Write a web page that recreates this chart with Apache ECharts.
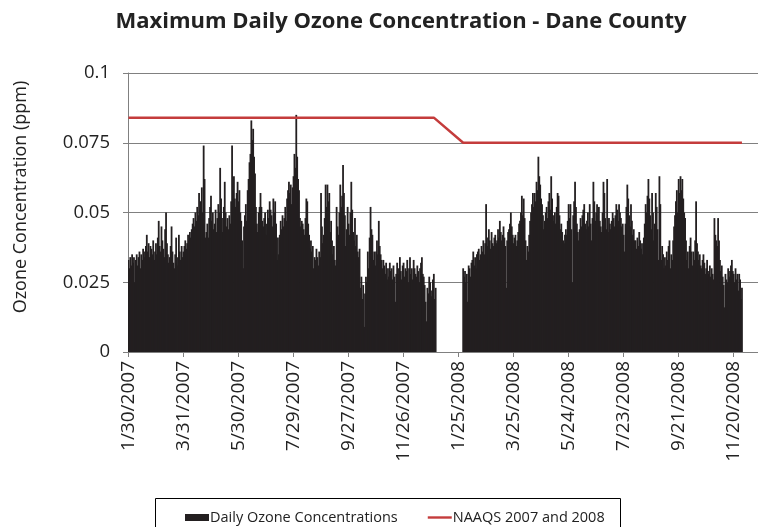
<!DOCTYPE html>
<html><head><meta charset="utf-8">
<script src="https://cdn.jsdelivr.net/npm/echarts@6/dist/echarts.min.js"></script>
<style>html,body{margin:0;padding:0;background:#fff}#c{width:758px;height:527px}</style>
</head><body><div id="c"></div>
<script>
// ---- DATA ----
const startDate = [2007, 1, 30];          // first category: 1/30/2007
const categoryCount = 687;                 // daily categories on the x axis
const labelEvery = 60;                     // a tick label every 60 days
const tickLabels = ['1/30/2007','3/31/2007','5/30/2007','7/29/2007','9/27/2007','11/26/2007','1/25/2008','3/25/2008','5/24/2008','7/23/2008','9/21/2008','11/20/2008'];
const yTicks = [0, 0.025, 0.05, 0.075, 0.1];

// Daily maximum ozone, 1/30/2007 - 12/31/2007 (ppm)
const ozone2007 = [
0.033,0.030,0.034,0.031,0.035,0.032,0.034,0.025,0.033,0.035,0.031,0.034,0.036,0.030,0.035,0.033,0.037,0.036,0.034,0.038,
0.042,0.036,0.039,0.034,0.038,0.037,0.035,0.040,0.033,0.036,0.039,0.035,0.041,0.047,0.038,0.036,0.045,0.040,0.037,0.034,
0.044,0.050,0.039,0.035,0.032,0.034,0.038,0.045,0.036,0.032,0.030,0.035,0.041,0.034,0.031,0.042,0.036,0.033,0.038,0.034,
0.036,0.038,0.040,0.037,0.039,0.042,0.040,0.043,0.041,0.044,0.046,0.048,0.045,0.050,0.047,0.052,0.049,0.057,0.051,0.054,
0.059,0.050,0.074,0.062,0.041,0.043,0.046,0.041,0.048,0.052,0.056,0.047,0.050,0.044,0.046,0.051,0.043,0.048,0.053,0.050,
0.066,0.055,0.048,0.043,0.052,0.061,0.050,0.045,0.048,0.044,0.049,0.046,0.054,0.074,0.058,0.063,0.055,0.052,0.057,0.061,
0.054,0.058,0.050,0.047,0.040,0.030,0.045,0.049,0.053,0.047,0.058,0.062,0.068,0.071,0.083,0.076,0.080,0.070,0.064,0.052,
0.046,0.043,0.050,0.052,0.057,0.052,0.047,0.045,0.048,0.050,0.042,0.046,0.051,0.048,0.054,0.051,0.049,0.045,0.055,0.050,
0.054,0.046,0.033,0.041,0.035,0.042,0.047,0.044,0.049,0.045,0.048,0.052,0.047,0.055,0.058,0.061,0.057,0.060,0.053,0.059,
0.063,0.071,0.066,0.085,0.070,0.062,0.058,0.048,0.045,0.047,0.046,0.044,0.042,0.048,0.055,0.054,0.046,0.042,0.037,0.040,
0.036,0.038,0.030,0.034,0.033,0.037,0.034,0.031,0.036,0.034,0.057,0.045,0.039,0.042,0.048,0.060,0.052,0.060,0.054,0.057,
0.043,0.047,0.040,0.035,0.038,0.033,0.031,0.052,0.045,0.042,0.050,0.060,0.052,0.056,0.067,0.057,0.049,0.038,0.044,0.052,
0.046,0.042,0.050,0.061,0.051,0.043,0.040,0.048,0.038,0.042,0.036,0.034,0.037,0.023,0.027,0.019,0.024,0.009,0.021,0.027,
0.025,0.036,0.030,0.041,0.052,0.044,0.042,0.033,0.036,0.031,0.036,0.040,0.035,0.047,0.038,0.035,0.033,0.030,0.033,0.031,
0.028,0.032,0.026,0.030,0.027,0.032,0.029,0.030,0.026,0.031,0.027,0.018,0.028,0.032,0.030,0.028,0.034,0.029,0.026,0.031,
0.032,0.027,0.030,0.029,0.033,0.025,0.030,0.034,0.028,0.030,0.026,0.033,0.030,0.028,0.027,0.031,0.029,0.025,0.030,0.032,
0.034,0.028,0.027,0.024,0.018,0.011,0.023,0.021,0.027,0.025,0.020,0.022,0.026,0.028,0.019,0.023
];
const gapDays = 29; // 1/1/2008 - 1/29/2008: no data

// Daily maximum ozone, 1/30/2008 - 11/29/2008 (ppm)
const ozone2008 = [
0.030,0.027,0.029,0.025,0.028,0.018,0.031,0.030,0.027,0.032,0.033,0.036,0.031,0.034,0.030,0.035,0.036,0.037,0.033,0.035,
0.038,0.036,0.040,0.035,0.039,0.053,0.041,0.038,0.044,0.040,0.037,0.043,0.039,0.038,0.041,0.042,0.039,0.040,0.044,0.041,
0.047,0.043,0.040,0.042,0.045,0.041,0.038,0.023,0.040,0.043,0.044,0.046,0.050,0.045,0.042,0.039,0.041,0.042,0.038,0.040,
0.043,0.046,0.047,0.050,0.056,0.049,0.055,0.048,0.040,0.033,0.038,0.036,0.042,0.047,0.050,0.053,0.057,0.052,0.057,0.054,
0.061,0.058,0.070,0.063,0.060,0.055,0.053,0.049,0.044,0.047,0.050,0.052,0.048,0.054,0.057,0.051,0.063,0.055,0.049,0.047,
0.050,0.046,0.052,0.057,0.056,0.049,0.044,0.046,0.043,0.040,0.039,0.042,0.044,0.042,0.047,0.053,0.048,0.053,0.044,0.025,
0.049,0.054,0.061,0.052,0.046,0.043,0.040,0.044,0.048,0.045,0.049,0.051,0.053,0.046,0.044,0.047,0.050,0.045,0.053,0.046,
0.040,0.048,0.061,0.054,0.047,0.050,0.053,0.049,0.052,0.047,0.045,0.043,0.050,0.061,0.057,0.048,0.044,0.062,0.043,0.048,
0.046,0.044,0.047,0.050,0.048,0.045,0.049,0.053,0.051,0.047,0.053,0.050,0.048,0.045,0.046,0.042,0.036,0.046,0.052,0.060,
0.055,0.049,0.045,0.053,0.047,0.042,0.044,0.040,0.040,0.037,0.041,0.038,0.043,0.040,0.037,0.039,0.035,0.041,0.046,0.053,
0.050,0.056,0.062,0.055,0.049,0.044,0.057,0.050,0.040,0.046,0.057,0.052,0.044,0.033,0.063,0.053,0.033,0.038,0.035,0.030,
0.034,0.031,0.036,0.033,0.038,0.040,0.030,0.035,0.033,0.040,0.045,0.049,0.054,0.058,0.050,0.062,0.057,0.063,0.058,0.062,
0.055,0.050,0.048,0.040,0.033,0.036,0.030,0.038,0.041,0.036,0.031,0.036,0.033,0.040,0.054,0.039,0.036,0.033,0.035,0.031,
0.030,0.033,0.035,0.032,0.028,0.030,0.033,0.029,0.028,0.031,0.027,0.030,0.028,0.026,0.048,0.042,0.040,0.038,0.048,0.040,
0.033,0.029,0.031,0.027,0.024,0.016,0.028,0.026,0.025,0.030,0.027,0.029,0.031,0.033,0.029,0.028,0.025,0.030,0.026,0.028,
0.022,0.028,0.026,0.019,0.023
];
const naaqs2007 = 0.084;
const naaqs2008 = 0.075;
const seriesNames = ['Daily Ozone Concentrations', 'NAAQS 2007 and 2008'];

// ---- BUILD ----
const categories = [];
for (let i = 0; i < categoryCount; i++) {
  const d = new Date(startDate[0], startDate[1] - 1, startDate[2] + i);
  categories.push((d.getMonth() + 1) + '/' + d.getDate() + '/' + d.getFullYear());
}
const gap = new Array(gapDays).fill(null);
const ozoneData = ozone2007.concat(gap, ozone2008);
const naaqsData = ozone2007.map(() => naaqs2007).concat(gap, ozone2008.map(() => naaqs2008));

const FONT = 'Open Sans';
const RED = '#c43c3c';
const chart = echarts.init(document.getElementById('c'), null, {renderer: 'canvas'});
chart.setOption({
  animation: false,
  backgroundColor: '#fff',
  grid: {left: 128, right: 0, top: 73, bottom: 175, containLabel: false},
  graphic: [
    {type: 'text', x: 401, y: 22,
      style: {text: 'Maximum Daily Ozone Concentration - Dane County', fontFamily: FONT, fontWeight: 'bold', fontSize: 22, fill: '#222', align: 'center', verticalAlign: 'middle'}},
    {type: 'text', x: 21, y: 197, rotation: Math.PI / 2,
      style: {text: 'Ozone Concentration (ppm)', fontFamily: FONT, fontSize: 18, fill: '#222', align: 'center', verticalAlign: 'middle'}},
    {type: 'rect', shape: {x: 155.5, y: 498.5, width: 465, height: 40}, style: {fill: 'none', stroke: '#000', lineWidth: 1}, z: 10}
  ],
  legend: {
    left: 180, top: 505, itemGap: 30, itemWidth: 24, itemHeight: 7,
    textStyle: {fontFamily: FONT, fontSize: 14.5, color: '#222', padding: [0, 0, 0, -4]},
    data: [
      {name: seriesNames[0], icon: 'rect'},
      {name: seriesNames[1], icon: 'path://M0,0H24V2.4H0Z', itemStyle: {color: RED}}
    ]
  },
  xAxis: {
    type: 'category', data: categories, boundaryGap: true,
    axisLine: {show: true, lineStyle: {color: '#808080', width: 1}},
    axisTick: {show: true, interval: labelEvery - 1, alignWithLabel: true, length: 5, lineStyle: {color: '#808080'}},
    axisLabel: {interval: labelEvery - 1, rotate: 90, fontFamily: FONT, fontSize: 19, color: '#222', margin: 9},
    splitLine: {show: false}
  },
  yAxis: {
    type: 'value', min: yTicks[0], max: yTicks[yTicks.length - 1], interval: 0.025,
    axisLine: {show: true, lineStyle: {color: '#808080', width: 1}},
    axisTick: {show: true, length: 5, lineStyle: {color: '#808080'}},
    axisLabel: {fontFamily: FONT, fontSize: 18.5, color: '#222', margin: 18},
    splitLine: {show: true, lineStyle: {color: '#808080', width: 1}}
  },
  series: [
    {name: seriesNames[0], type: 'bar', data: ozoneData, barWidth: 1.8,
      itemStyle: {color: '#231f20'}, z: 2},
    {name: seriesNames[1], type: 'line', data: naaqsData, connectNulls: true, symbol: 'none', showSymbol: false,
      lineStyle: {color: RED, width: 2.5}, itemStyle: {color: RED}, z: 3}
  ]
});
</script>
</body></html>
